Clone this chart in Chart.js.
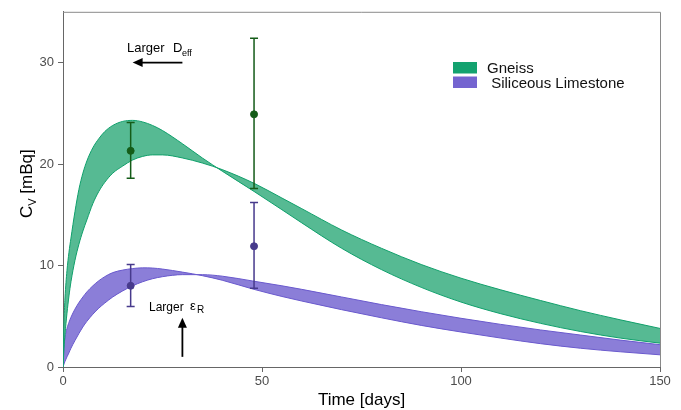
<!DOCTYPE html>
<html>
<head>
<meta charset="utf-8">
<script src="https://cdn.jsdelivr.net/npm/chart.js@4.4.1/dist/chart.umd.min.js"></script>
<style>
  body { margin: 0; background: #fff; }
  canvas { display: block; }
</style>
</head>
<body>
<canvas id="myChart" width="681" height="410"></canvas>
<script>
// model time grid (days)
var times = [0, 0.25, 0.5, 1, 1.5, 2, 3, 4, 5, 6, 7.5, 9, 10.5, 12.5, 15, 17.5, 20, 22.5, 25, 30, 35, 40, 48, 55, 60, 70, 80, 90, 100, 110, 120, 130, 140, 150];
// Gneiss envelope: larger Deff and smaller Deff runs
var gneissFast = [0, 4.5, 6.8, 9.5, 11.3, 12.7, 15.3, 17.5, 19.1, 20.3, 21.6, 22.5, 23.2, 23.8, 24.2, 24.3, 24.15, 23.8, 23.3, 22.0, 20.6, 19.3, 17.3, 15.5, 14.2, 11.7, 9.6, 7.85, 6.4, 5.25, 4.3, 3.5, 2.85, 2.35];
var gneissSlow = [0, 1.8, 3.2, 5.3, 7.0, 8.4, 10.5, 12.1, 13.4, 14.5, 16.1, 17.3, 18.2, 19.1, 19.8, 20.4, 20.75, 20.9, 20.9, 20.6, 20.1, 19.45, 18.1, 16.65, 15.6, 13.5, 11.7, 10.1, 8.75, 7.6, 6.55, 5.55, 4.65, 3.8];
// Siliceous limestone envelope
var limeFast = [0, 2.0, 2.9, 3.8, 4.4, 4.9, 5.7, 6.35, 6.9, 7.4, 8.0, 8.5, 8.9, 9.3, 9.55, 9.7, 9.77, 9.75, 9.65, 9.35, 9.0, 8.55, 7.65, 6.95, 6.5, 5.65, 4.85, 4.1, 3.45, 2.85, 2.3, 1.85, 1.5, 1.2];
var limeSlow = [0, 0.3, 0.55, 1.0, 1.4, 1.85, 2.6, 3.3, 3.95, 4.5, 5.2, 5.8, 6.3, 6.9, 7.5, 8.0, 8.4, 8.7, 8.9, 9.1, 9.1, 8.95, 8.45, 8.0, 7.65, 6.9, 6.15, 5.45, 4.8, 4.2, 3.65, 3.15, 2.65, 2.2];

// measured values with error ranges
var obsTimes = [17, 48];
var obsGneiss = [21.3, 24.9];
var obsGneissLo = [18.6, 17.6];
var obsGneissHi = [24.1, 32.4];
var obsLime = [8.0, 11.9];
var obsLimeLo = [5.95, 7.75];
var obsLimeHi = [10.1, 16.2];

var legendLabels = ['Gneiss', ' Siliceous Limestone'];
var xTicks = [0, 50, 100, 150];
var yTicks = [0, 10, 20, 30];

var FONT = "'Liberation Sans', Arial, sans-serif";
var green = '#10a06c';
var greenFill = 'rgba(21,160,106,0.72)';
var purple = '#6a5acd';
var purpleFill = 'rgba(106,90,205,0.78)';
var darkGreen = '#145c18';
var darkPurple = '#473a8c';

function pts(ys) {
    return times.map(function (t, i) { return { x: t, y: ys[i] }; });
}
function obsPts(ys) {
    return obsTimes.map(function (t, i) { return { x: t, y: ys[i] }; });
}

function band(data, fill, bg, edge) {
    return {
        type: 'line', data: data, fill: fill, backgroundColor: bg,
        borderColor: edge, borderWidth: 1, pointRadius: 0,
        cubicInterpolationMode: 'monotone', order: 2
    };
}

var whiskersDone = false;
var overlay = {
    id: 'overlay',
    beforeDraw: function () { whiskersDone = false; },
    // error bars go over the bands but under the dots
    beforeDatasetDraw: function (chart, args) {
        if (whiskersDone || args.meta.type !== 'scatter') return;
        whiskersDone = true;
        var ctx = chart.ctx, xs = chart.scales.x, ys = chart.scales.y;
        function whisk(lo, hi, col) {
            ctx.save();
            ctx.strokeStyle = col;
            ctx.lineWidth = 1.5;
            for (var i = 0; i < obsTimes.length; i++) {
                var px = xs.getPixelForValue(obsTimes[i]);
                var y0 = ys.getPixelForValue(lo[i]), y1 = ys.getPixelForValue(hi[i]);
                ctx.beginPath();
                ctx.moveTo(px, y0); ctx.lineTo(px, y1);
                ctx.moveTo(px - 4, y0); ctx.lineTo(px + 4, y0);
                ctx.moveTo(px - 4, y1); ctx.lineTo(px + 4, y1);
                ctx.stroke();
            }
            ctx.restore();
        }
        whisk(obsGneissLo, obsGneissHi, darkGreen);
        whisk(obsLimeLo, obsLimeHi, darkPurple);
    },
    afterDraw: function (chart) {
        var ctx = chart.ctx, a = chart.chartArea, xs = chart.scales.x, ys = chart.scales.y;
        ctx.save();
        // frame on top and right
        ctx.strokeStyle = '#8a8a8a';
        ctx.lineWidth = 1;
        ctx.beginPath();
        ctx.moveTo(a.left, a.top + 0.5); ctx.lineTo(a.right + 0.5, a.top + 0.5); ctx.lineTo(a.right + 0.5, a.bottom);
        ctx.stroke();

        // legend
        var lx = 453, ly = [62, 76.5], cols = ['#13a26f', '#7464d0'];
        ctx.textBaseline = 'middle';
        for (var i = 0; i < legendLabels.length; i++) {
            ctx.fillStyle = cols[i];
            ctx.fillRect(lx, ly[i], 24, 11.5);
            ctx.fillStyle = '#111';
            ctx.font = '15px ' + FONT;
            ctx.fillText(legendLabels[i], 487, ly[i] + 7);
        }

        // arrows and notes
        ctx.fillStyle = '#000';
        ctx.strokeStyle = '#000';
        ctx.lineWidth = 1.8;
        var ay = ys.getPixelForValue(30), ax0 = xs.getPixelForValue(30), ax1 = xs.getPixelForValue(17.5);
        ctx.beginPath(); ctx.moveTo(ax0, ay); ctx.lineTo(ax1 + 8, ay); ctx.stroke();
        ctx.beginPath(); ctx.moveTo(ax1, ay); ctx.lineTo(ax1 + 10, ay - 4.5); ctx.lineTo(ax1 + 10, ay + 4.5); ctx.closePath(); ctx.fill();
        ctx.font = '13px ' + FONT;
        ctx.textBaseline = 'alphabetic';
        ctx.fillText('Larger', 127, 52);
        ctx.fillText('D', 173, 52);
        ctx.font = '9px ' + FONT;
        ctx.fillText('eff', 182, 56);

        var ux = xs.getPixelForValue(30), uy0 = ys.getPixelForValue(1), uy1 = ys.getPixelForValue(4.85);
        ctx.beginPath(); ctx.moveTo(ux, uy0); ctx.lineTo(ux, uy1 + 8); ctx.stroke();
        ctx.beginPath(); ctx.moveTo(ux, uy1); ctx.lineTo(ux - 4.5, uy1 + 10); ctx.lineTo(ux + 4.5, uy1 + 10); ctx.closePath(); ctx.fill();
        ctx.font = '12px ' + FONT;
        ctx.fillText('Larger', 149, 311);
        ctx.font = '13px ' + FONT;
        ctx.fillText('ε', 190, 310);
        ctx.font = '10px ' + FONT;
        ctx.fillText('R', 197, 313);

        // axis titles
        ctx.fillStyle = '#000';
        ctx.font = '17px ' + FONT;
        ctx.textAlign = 'center';
        ctx.fillText('Time [days]', (a.left + a.right) / 2, 405);
        ctx.textAlign = 'left';
        ctx.save();
        ctx.translate(32, 218);
        ctx.rotate(-Math.PI / 2);
        ctx.font = '17px ' + FONT;
        ctx.fillText('C', 0, 0);
        var w = ctx.measureText('C').width;
        ctx.font = '11px ' + FONT;
        ctx.fillText('V', w, 4);
        w += ctx.measureText('V').width;
        ctx.font = '17px ' + FONT;
        ctx.fillText(' [mBq]', w, 0);
        ctx.restore();
        ctx.restore();
    }
};

var tickFont = { family: FONT, size: 13 };
var context = document.getElementById('myChart');
var myChart = new Chart(context, {
    data: {
        datasets: [
            band(pts(gneissFast), '+1', greenFill, green),
            band(pts(gneissSlow), false, greenFill, green),
            band(pts(limeFast), '+1', purpleFill, purple),
            band(pts(limeSlow), false, purpleFill, purple),
            { type: 'scatter', data: obsPts(obsGneiss), backgroundColor: darkGreen, borderColor: darkGreen, pointRadius: 3.5, order: 0 },
            { type: 'scatter', data: obsPts(obsLime), backgroundColor: darkPurple, borderColor: darkPurple, pointRadius: 3.5, order: 0 }
        ]
    },
    options: {
        responsive: false,
        animation: false,
        layout: { padding: { top: 11, right: 21, left: 0, bottom: 0 } },
        plugins: { legend: { display: false }, tooltip: { enabled: false } },
        scales: {
            x: {
                type: 'linear', min: 0, max: 150,
                afterBuildTicks: function (s) { s.ticks = xTicks.map(function (v) { return { value: v }; }); },
                afterFit: function (s) { s.height = 43; },
                ticks: { font: tickFont, color: '#4d4d4d', padding: 2, maxRotation: 0 },
                grid: { drawOnChartArea: false, tickLength: 5, color: '#666' },
                border: { color: '#666' }
            },
            y: {
                type: 'linear', min: 0, max: 35,
                afterBuildTicks: function (s) { s.ticks = yTicks.map(function (v) { return { value: v }; }); },
                afterFit: function (s) { s.width = 63; },
                ticks: { font: tickFont, color: '#4d4d4d', padding: 4 },
                grid: { drawOnChartArea: false, tickLength: 5, color: '#666' },
                border: { color: '#666' }
            }
        }
    },
    plugins: [overlay]
});
</script>
</body>
</html>
